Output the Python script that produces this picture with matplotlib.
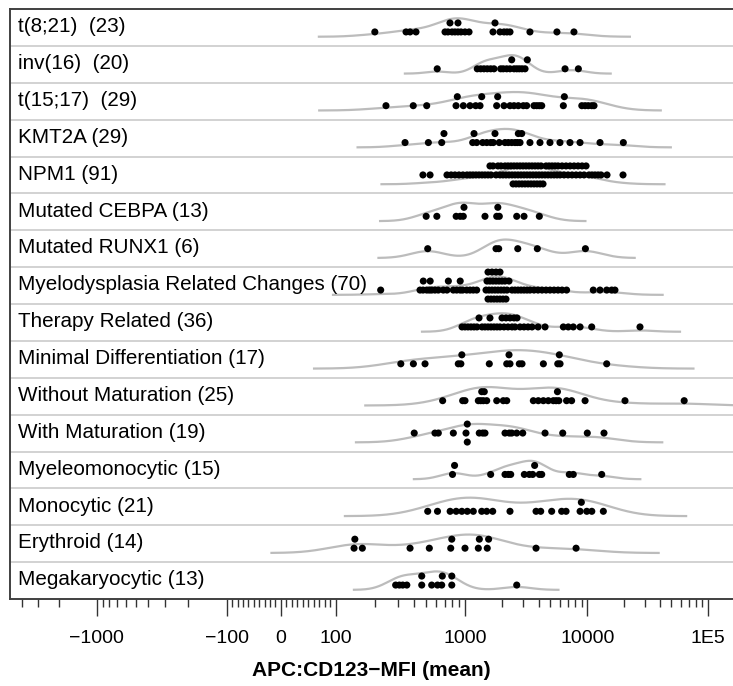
import numpy as np
import matplotlib
matplotlib.use("Agg")
import matplotlib.pyplot as plt
import matplotlib.transforms as mtransforms

plt.rcParams["font.family"] = ["Liberation Sans", "DejaVu Sans"]

# ---------------- data ----------------
categories = ["t(8;21)  (23)", "inv(16)  (20)", "t(15;17)  (29)", "KMT2A (29)", "NPM1 (91)",
              "Mutated CEBPA (13)", "Mutated RUNX1 (6)", "Myelodysplasia Related Changes (70)",
              "Therapy Related (36)", "Minimal Differentiation (17)", "Without Maturation (25)",
              "With Maturation (19)", "Myeleomonocytic (15)", "Monocytic (21)", "Erythroid (14)",
              "Megakaryocytic (13)"]

t_8_21 = [200, 349, 375, 417, 700, 738, 765, 793, 836, 882, 882, 931, 1000, 1079, 1694, 1759,
          1932, 2084, 2204, 2333, 3397, 5645, 7777]
inv_16 = [609, 1260, 1343, 1429, 1521, 1621, 1726, 1958, 2056, 2192, 2333, 2409, 2517, 2648,
          2781, 2927, 3097, 3232, 6577, 8452]
t_15_17 = [244, 397, 505, 852, 872, 971, 1099, 1223, 1327, 1370, 1815, 1850, 2084, 2333, 2517,
           2729, 2999, 3194, 3664, 3855, 4052, 4240, 6369, 6492, 9017, 9597, 10190, 10880, 11370]
kmt2a = [343, 520, 660, 687, 1156, 1185, 1246, 1395, 1505, 1621, 1703, 1759, 1906, 2122, 2260,
         2409, 2565, 2680, 2729, 2818, 2910, 3397, 4103, 4952, 5978, 7218, 8719, 12750, 19920]
npm1 = [472, 536, 725, 781, 836, 898, 964, 1038, 1099, 1162, 1230, 1302, 1378, 1457, 1542, 1600,
        1631, 1694, 1793, 1860, 1933, 1970, 2045, 2124, 2164, 2247, 2290, 2378, 2424, 2470, 2516,
        2564, 2613, 2663, 2713, 2765, 2818, 2871, 2926, 2981, 3038, 3096, 3155, 3215, 3276, 3338,
        3401, 3466, 3532, 3600, 3668, 3738, 3809, 3881, 3955, 4030, 4107, 4185, 4265, 4346, 4513,
        4599, 4776, 4866, 5053, 5149, 5347, 5449, 5658, 5766, 5987, 6217, 6456, 6704, 6961, 7229,
        7506, 7795, 8094, 8405, 8728, 9063, 9411, 9772, 10330, 10940, 11590, 12290, 13000, 14580,
        19800]
cebpa = [500, 605, 854, 918, 970, 982, 1457, 1817, 1855, 1908, 2648, 3038, 4053]
runx1 = [514, 1793, 1886, 2700, 3904, 9650]
mrc = [222, 448, 473, 475, 505, 529, 537, 552, 585, 621, 679, 725, 743, 812, 862, 918, 918, 959,
       1032, 1099, 1169, 1246, 1485, 1513, 1542, 1542, 1571, 1600, 1631, 1662, 1662, 1694, 1726,
       1759, 1793, 1793, 1827, 1860, 1897, 1933, 1933, 1970, 2007, 2045, 2084, 2124, 2164, 2205,
       2290, 2424, 2564, 2713, 2871, 3038, 3215, 3401, 3668, 3955, 4265, 4599, 4959, 5347, 5766,
       6217, 6770, 11210, 12750, 14490, 15940, 16970]
therapy = [948, 1000, 1058, 1119, 1185, 1253, 1302, 1378, 1457, 1542, 1600, 1631, 1726, 1827,
           1933, 2007, 2084, 2164, 2247, 2333, 2424, 2516, 2564, 2663, 2818, 3038, 3276, 3532,
           3955, 4513, 6370, 6990, 7680, 8728, 10880, 27390]
min_diff = [318, 398, 490, 887, 929, 945, 1580, 2194, 2290, 2333, 2780, 2926, 4373, 5733, 5905,
            5987, 14490]
without_mat = [671, 959, 1000, 1285, 1344, 1370, 1412, 1438, 1505, 1817, 2056, 2194, 3620, 3975,
               4373, 4800, 5277, 5559, 5700, 5850, 6770, 7444, 9590, 20560, 63780]
with_mat = [404, 585, 621, 812, 1019, 1044, 1044, 1308, 1395, 1457, 2124, 2302, 2409, 2648, 2965,
            4513, 6296, 10000, 13760]
myelomono = [800, 830, 1621, 2124, 2260, 2365, 3055, 3357, 3575, 3710, 4053, 4240, 7124, 7680,
             13170]
monocytic = [514, 612, 767, 854, 945, 1044, 1169, 1370, 1505, 1685, 2333, 3809, 4160, 5114, 6170,
             6704, 8728, 8940, 9900, 10900, 13590]
erythroid = [138, 140, 160, 375, 529, 775, 790, 1000, 1285, 1310, 1520, 1560, 3809, 8094]
megakaryo = [290, 310, 329, 354, 462, 462, 552, 612, 660, 667, 790, 790, 2648]

series = [t_8_21, inv_16, t_15_17, kmt2a, npm1, cebpa, runx1, mrc, therapy, min_diff,
          without_mat, with_mat, myelomono, monocytic, erythroid, megakaryo]

major_ticks = [-1000, -100, 0, 100, 1000, 10000, 100000]
major_labels = ["\u22121000", "\u2212100", "0", "100", "1000", "10000", "1E5"]

# ---------------- biexponential-like axis scale ----------------
LT = 100.0
S_ANCH = np.array([-10, -3, -2, -1, 0, 1, 2, 3, 4, 5, 12], float)
U_ANCH = np.array([-27.3 - 7 * 124, -27.3, 96.7, 226.7, 280.7, 336.0, 465.0, 587.3, 707.7,
                   828.1, 828.1 + 7 * 120.4])


def to_s(x):
    x = np.asarray(x, float)
    a = np.abs(x)
    return np.where(a <= LT, x / LT, np.sign(x) * (1 + np.log10(np.maximum(a, 1e-9) / LT)))


def from_s(s):
    s = np.asarray(s, float)
    return np.where(np.abs(s) <= 1, s * LT, np.sign(s) * LT * 10 ** (np.abs(s) - 1))


def fwd(x):
    return np.interp(to_s(x), S_ANCH, U_ANCH)


def inv(u):
    return from_s(np.interp(np.asarray(u, float), U_ANCH, S_ANCH))


def nrd0(u):
    n = len(u)
    sd = np.std(u, ddof=1)
    q75, q25 = np.percentile(u, [75, 25])
    lo = min(sd, (q75 - q25) / 1.34)
    if lo <= 0:
        lo = sd if sd > 0 else 1.0
    return 0.9 * lo * n ** -0.2


def swarm_levels(u, thr=2.3):
    order = np.argsort(u, kind="stable")
    lev = np.zeros(len(u))
    placed = []
    for i in order:
        for k in [0, -1, 1, -2, 2, -3, 3, -4, 4, -5, 5]:
            if all(abs(u[i] - pu) >= thr for pu, pk in placed if pk == k):
                lev[i] = k
                placed.append((u[i], k))
                break
    return lev


# ---------------- figure ----------------
W, H = 733, 686
U_LO, U_HI = 10.0, 733.0
fig = plt.figure(figsize=(W / 100, H / 100), dpi=100)
ax = fig.add_axes([10 / W, 1 - 599 / H, 1 - 10 / W, 590 / H])
ax.set_xscale("function", functions=(fwd, inv))
n_rows = len(categories)

row_px = 590 / n_rows
step = 9.0 / row_px

for i in range(n_rows - 1):
    ax.axhline(i + 0.5, color="#c6c6c6", lw=1.1, zorder=1)

trans = mtransforms.blended_transform_factory(ax.transAxes, ax.transData)
for i, (lab, vals) in enumerate(zip(categories, series)):
    vals = np.asarray(vals, float)
    u = fwd(vals)
    bw = nrd0(u)
    g = np.linspace(u.min() - 3 * bw, u.max() + 3 * bw, 600)
    d = np.exp(-0.5 * ((g[:, None] - u[None, :]) / bw) ** 2).sum(axis=1)
    d = d / d.max()
    ax.plot(inv(g), i + 0.252 - 0.50 * d, color="#bcbcbc", lw=1.6, zorder=2,
            solid_capstyle="butt")
    lev = swarm_levels(u)
    shift = (lev.max() + lev.min()) / 2.0
    ax.scatter(vals, i + (lev - shift) * step, s=26, color="black", edgecolors="none", zorder=3)
    ax.text(8 / 723, i - 0.02, lab, transform=trans, ha="left", va="center", fontsize=14.9,
            color="black", zorder=4)

minor = []
for dec in [1000, 100]:
    minor += [-m * dec for m in range(2, 10)]
minor += [-m * 10 for m in range(1, 10)] + [m * 10 for m in range(1, 10)]
for dec in [100, 1000, 10000]:
    minor += [m * dec for m in range(2, 10)]
minor = [t for t in minor if U_LO + 2 < fwd(t) < U_HI - 1]

ax.set_xticks(major_ticks)
ax.set_xticklabels(major_labels)
ax.set_xticks(minor, minor=True)
ax.set_xlim(float(inv(U_LO)), float(inv(U_HI)))
ax.set_ylim(n_rows - 0.5, -0.5)
ax.set_yticks([])
ax.tick_params(axis="x", which="major", length=12.2, width=1.0, color="#333333",
               labelsize=14, pad=10)
ax.tick_params(axis="x", which="minor", length=6.0, width=1.0, color="#333333")

for side in ["left", "top", "bottom"]:
    ax.spines[side].set_color("#404040")
    ax.spines[side].set_linewidth(1.4)
ax.spines["right"].set_visible(False)

ax.set_xlabel("APC:CD123\u2212MFI (mean)", fontsize=15, fontweight="bold", labelpad=10)

fig.savefig("out.png", dpi=100)
